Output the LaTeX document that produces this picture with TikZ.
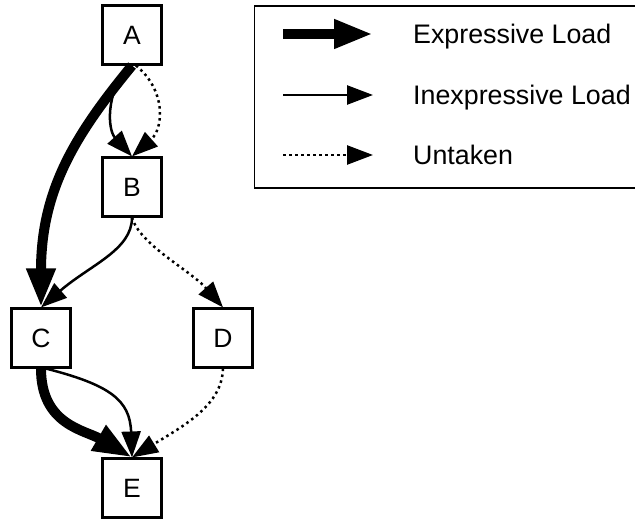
\documentclass[tikz,border=0pt]{standalone}
\usepackage{fontspec}
\setmainfont{Liberation Sans}
\usetikzlibrary{arrows.meta}

\begin{document}
\begin{tikzpicture}[x=1pt,y=-1pt,
  box/.style={draw, line width=2.6pt, minimum size=58.5pt, inner sep=0pt,
              font=\fontsize{26.5}{30}\selectfont},
  expressive/.style={line width=10pt, -{Triangle[length=39pt,width=27pt]}},
  inexpressive/.style={line width=2.5pt, -{Triangle[length=26pt,width=19pt]}},
  untaken/.style={line width=2.5pt, dash pattern=on 2.5pt off 3.5pt,
                  -{Triangle[length=26pt,width=19pt]}},
  legendtext/.style={anchor=base west, inner sep=0pt,
                     font=\fontsize{26.8}{30}\selectfont}]
\useasboundingbox (0,0) rectangle (635,521);

% blocks
\node[box] (A) at (132,35)  {A};
\node[box] (B) at (132,187) {B};
\node[box] (C) at (41,338)  {C};
\node[box] (D) at (223,338) {D};
\node[box] (E) at (132,488) {E};

% loads between blocks
\draw[expressive] (A.south) .. controls (75,135) and (41,190) .. (C.north);
\draw[inexpressive] ([xshift=-4pt]A.south) .. controls (105,95) and (108,130) .. (B.north);
\draw[untaken] ([xshift=4pt]A.south) .. controls (166,90) and (164,128) .. (B.north);
\draw[inexpressive] (B.south) .. controls (132,250) and (90,265) .. (C.north);
\draw[untaken] (B.south) .. controls (140,245) and (190,270) .. (D.north);
\draw[expressive] (C.south) .. controls (41,425) and (85,430) .. (E.north);
\draw[inexpressive] ([xshift=5pt]C.south) .. controls (110,385) and (130,400) .. (E.north);
\draw[untaken] (D.south) .. controls (222,405) and (185,425) .. (E.north);

% legend
\node[draw, line width=1.2pt, minimum width=381pt, minimum height=182pt,
      inner sep=0pt, anchor=north west] (legend) at (253.5,5.5) {};
\coordinate (l1s) at (283,34);  \coordinate (l1e) at (373,34);
\coordinate (l2s) at (283,95);  \coordinate (l2e) at (373,95);
\coordinate (l3s) at (283,155); \coordinate (l3e) at (373,155);
\draw[expressive] (l1s) -- (l1e);
\draw[inexpressive] (l2s) -- (l2e);
\draw[untaken] (l3s) -- (l3e);
\node[legendtext] (t1) at (413,43.5)  {Expressive Load};
\node[legendtext] (t2) at (413,104.5) {Inexpressive Load};
\node[legendtext] (t3) at (413,164.5) {Untaken};
\end{tikzpicture}
\end{document}
